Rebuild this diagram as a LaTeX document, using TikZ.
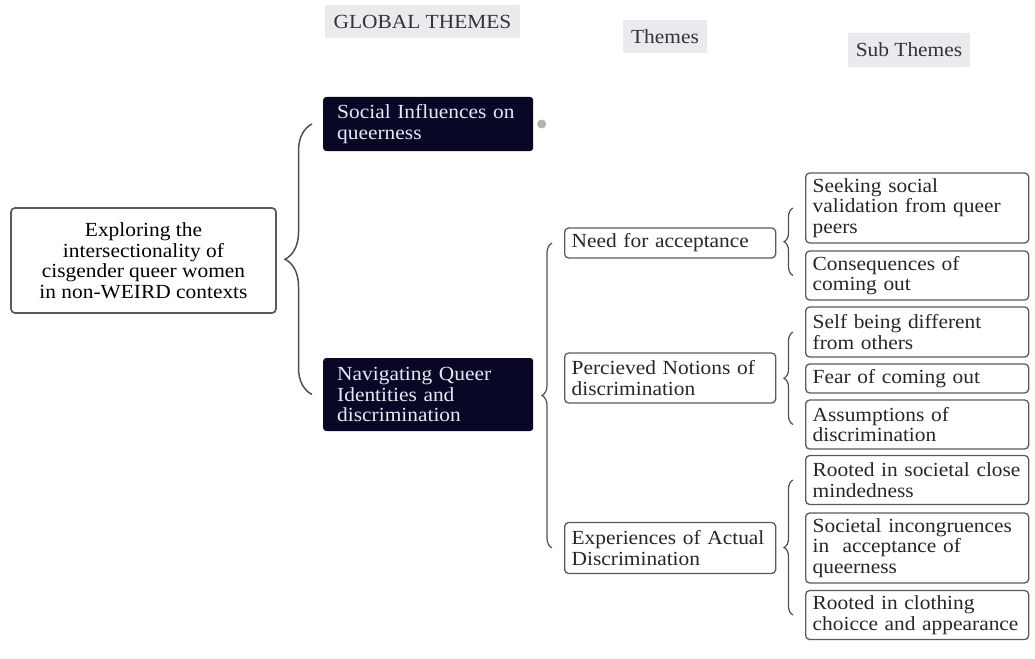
\documentclass[tikz,border=0pt]{standalone}
\usepackage{fontspec}
\setmainfont{Liberation Serif}[FakeStretch=1.07]
\usetikzlibrary{positioning, calc, decorations.pathreplacing}
\definecolor{navybox}{RGB}{8,8,38}
\definecolor{lighttext}{RGB}{232,232,242}
\definecolor{boxline}{RGB}{90,90,90}
\definecolor{headbg}{RGB}{234,234,239}
\definecolor{bracegray}{RGB}{80,80,80}

\begin{document}
\begin{tikzpicture}[x=1pt, y=-1pt, font=\fontsize{20}{20.5}\selectfont,
  heading/.style={fill=headbg, inner sep=0pt, minimum height=33pt, text=black!80},
  rootbox/.style={draw=boxline, line width=1.7pt, rounded corners=4pt, align=center,
    minimum width=265pt, minimum height=105pt, inner sep=2pt},
  globalbox/.style={fill=navybox, text=lighttext, rounded corners=3pt, anchor=west,
    align=left, text width=182pt, inner xsep=14pt, inner ysep=2pt},
  themebox/.style={draw=boxline, line width=1.3pt, rounded corners=4pt, anchor=west,
    align=left, text width=197pt, inner xsep=7pt, inner ysep=2pt, text=black!85},
  subbox/.style={draw=boxline, line width=1.3pt, rounded corners=4pt, anchor=west,
    align=left, text width=209pt, inner xsep=7pt, inner ysep=2pt, text=black!85},
  dot/.style={circle, fill=black!30, inner sep=0pt, minimum size=9pt},
  bigbrace/.style={draw=bracegray, line width=1.5pt, decorate, decoration={brace, amplitude=27pt}},
  midbrace/.style={draw=bracegray, line width=1.2pt, decorate, decoration={brace, amplitude=10pt}},
  smallbrace/.style={draw=bracegray, line width=1.2pt, decorate, decoration={brace, amplitude=9pt}}]
  \useasboundingbox (0,0) rectangle (1035,658);

  % column headings
  \node[heading, minimum width=195pt] (hglobal) at (422.5,21.5) {GLOBAL THEMES};
  \node[heading, minimum width=84pt] (htheme) at (665,36.5) {Themes};
  \node[heading, minimum width=122pt, minimum height=34pt] (hsub) at (909,50) {Sub Themes};

  % root
  \node[rootbox] (root) at (143.5,260.5) {Exploring the\\intersectionality of\\cisgender queer women\\in non-WEIRD contexts};

  % global themes
  \node[globalbox, minimum height=54pt] (social) at (323,124) {Social Influences on\\queerness};
  \node[dot, right=3.5pt of social] (socialdot) {};
  \node[globalbox, minimum height=73pt] (navig) at (323,394.5) {Navigating Queer\\Identities and\\discrimination};
  \draw[bigbrace] ($(navig.west)+(-11,0)$) -- ($(social.west)+(-11,0)$);

  % themes
  \node[themebox, minimum height=30pt] (accept) at (564,243) {Need for acceptance};
  \node[themebox, minimum height=50pt] (notions) at (564,378) {Percieved Notions of\\discrimination};
  \node[themebox, minimum height=51pt] (actual) at (564,548) {Experiences of Actual\\Discrimination};
  \draw[midbrace] ($(actual.west)+(-12,0)$) -- ($(accept.west)+(-12,0)$);

  % sub themes
  \node[subbox, minimum height=70pt] (seeking) at (805,208) {Seeking social\\validation from queer\\peers};
  \node[subbox, minimum height=49pt] (conseq) at (805,275.5) {Consequences of\\coming out};
  \node[subbox, minimum height=50pt] (different) at (805,332) {Self being different\\from others};
  \node[subbox, minimum height=29pt] (fear) at (805,378.5) {Fear of coming out};
  \node[subbox, minimum height=49pt] (assume) at (805,424.5) {Assumptions of\\discrimination};
  \node[subbox, minimum height=49pt] (closemind) at (805,480) {Rooted in societal close\\mindedness};
  \node[subbox, minimum height=70pt] (incongr) at (805,548) {Societal incongruences\\in\ \ acceptance of\\queerness};
  \node[subbox, minimum height=49pt] (clothing) at (805,615) {Rooted in clothing\\choicce and appearance};
  \draw[smallbrace] ($(conseq.west)+(-12,0)$) -- ($(seeking.west)+(-12,0)$);
  \draw[smallbrace] ($(assume.west)+(-12,0)$) -- ($(different.west)+(-12,0)$);
  \draw[smallbrace] ($(clothing.west)+(-12,0)$) -- ($(closemind.west)+(-12,0)$);
\end{tikzpicture}
\end{document}
